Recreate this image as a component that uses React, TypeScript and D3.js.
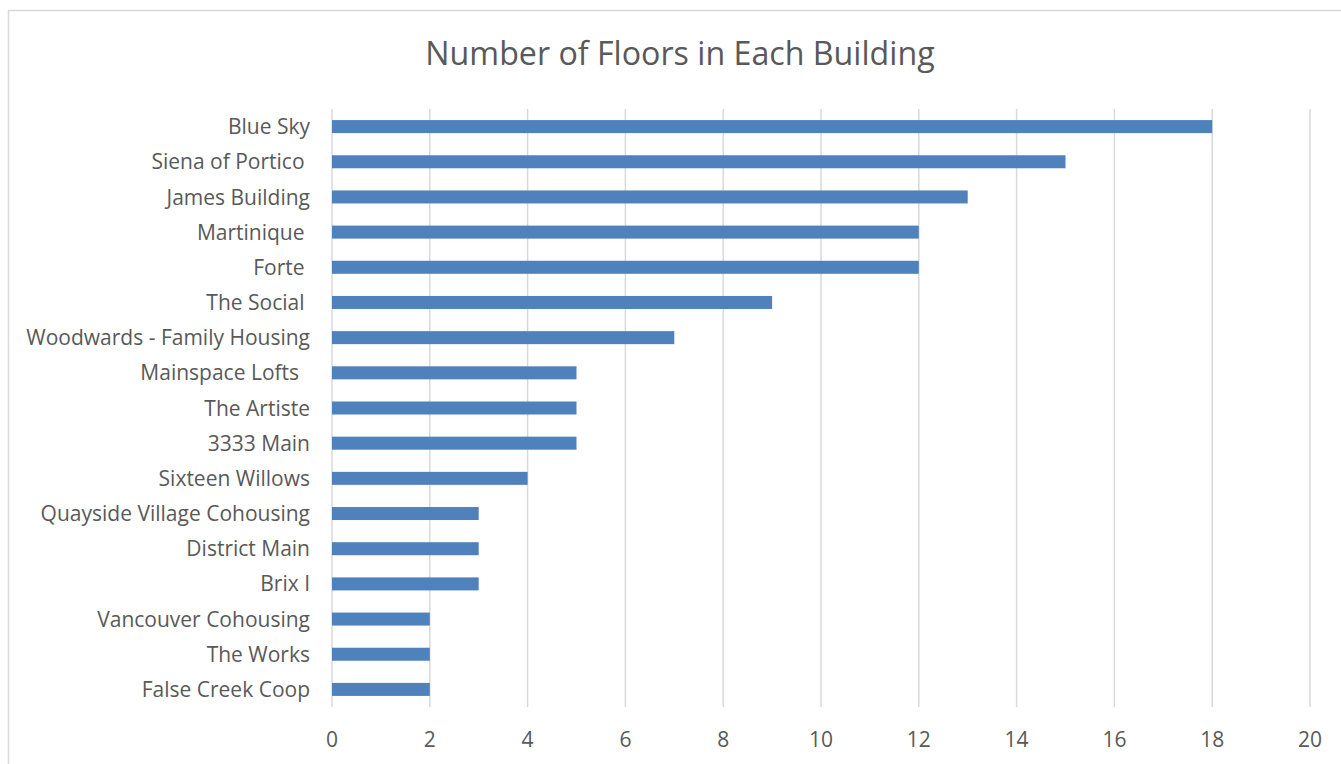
import React from "react";
import * as d3 from "d3";

const categories = [
  "Blue Sky",
  "Siena of Portico ",
  "James Building",
  "Martinique ",
  "Forte ",
  "The Social ",
  "Woodwards - Family Housing",
  "Mainspace Lofts  ",
  "The Artiste",
  "3333 Main",
  "Sixteen Willows",
  "Quayside Village Cohousing",
  "District Main",
  "Brix I",
  "Vancouver Cohousing",
  "The Works",
  "False Creek Coop",
];
const floors = [18, 15, 13, 12, 12, 9, 7, 5, 5, 5, 4, 3, 3, 3, 2, 2, 2];
const xTicks = [0, 2, 4, 6, 8, 10, 12, 14, 16, 18, 20];
const title = "Number of Floors in Each Building";

const W = 1341;
const H = 764;
const font = "'Open Sans', sans-serif";

export default function App() {
  const x = d3.scaleLinear().domain([0, 20]).range([332, 1310]);
  const y = d3.scaleBand().domain(categories).range([109, 707]).paddingInner(0.63).paddingOuter(0.315);

  return (
    <svg width={W} height={H} style={{ position: "absolute", left: 0, top: 0 }}>
      <rect x={0} y={0} width={W} height={H} fill="#fff" />
      <rect x={8.5} y={10.5} width={W + 10} height={H + 10} fill="none" stroke="#d9d9d9" strokeWidth={1.5} />
      <text x={680} y={65} textAnchor="middle" fontFamily={font} fontSize={32.2} fill="#595959">
        {title}
      </text>
      {xTicks.map((t) => (
        <g key={t}>
          <line x1={x(t)} x2={x(t)} y1={109} y2={707} stroke="#d9d9d9" strokeWidth={1.5} />
          <text x={x(t)} y={747} textAnchor="middle" fontFamily={font} fontSize={21} fill="#595959">
            {t}
          </text>
        </g>
      ))}
      {categories.map((c, i) => (
        <g key={c}>
          <rect
            x={x(0)}
            y={y(c)!}
            width={x(floors[i]) - x(0)}
            height={y.bandwidth()}
            fill="#4f81bd"
          />
          <text
            x={310}
            y={y(c)! + y.bandwidth() / 2}
            dy="0.36em"
            textAnchor="end"
            fontFamily={font}
            fontSize={21}
            fill="#595959"
            style={{ whiteSpace: "pre" }}
          >
            {c}
          </text>
        </g>
      ))}
    </svg>
  );
}
